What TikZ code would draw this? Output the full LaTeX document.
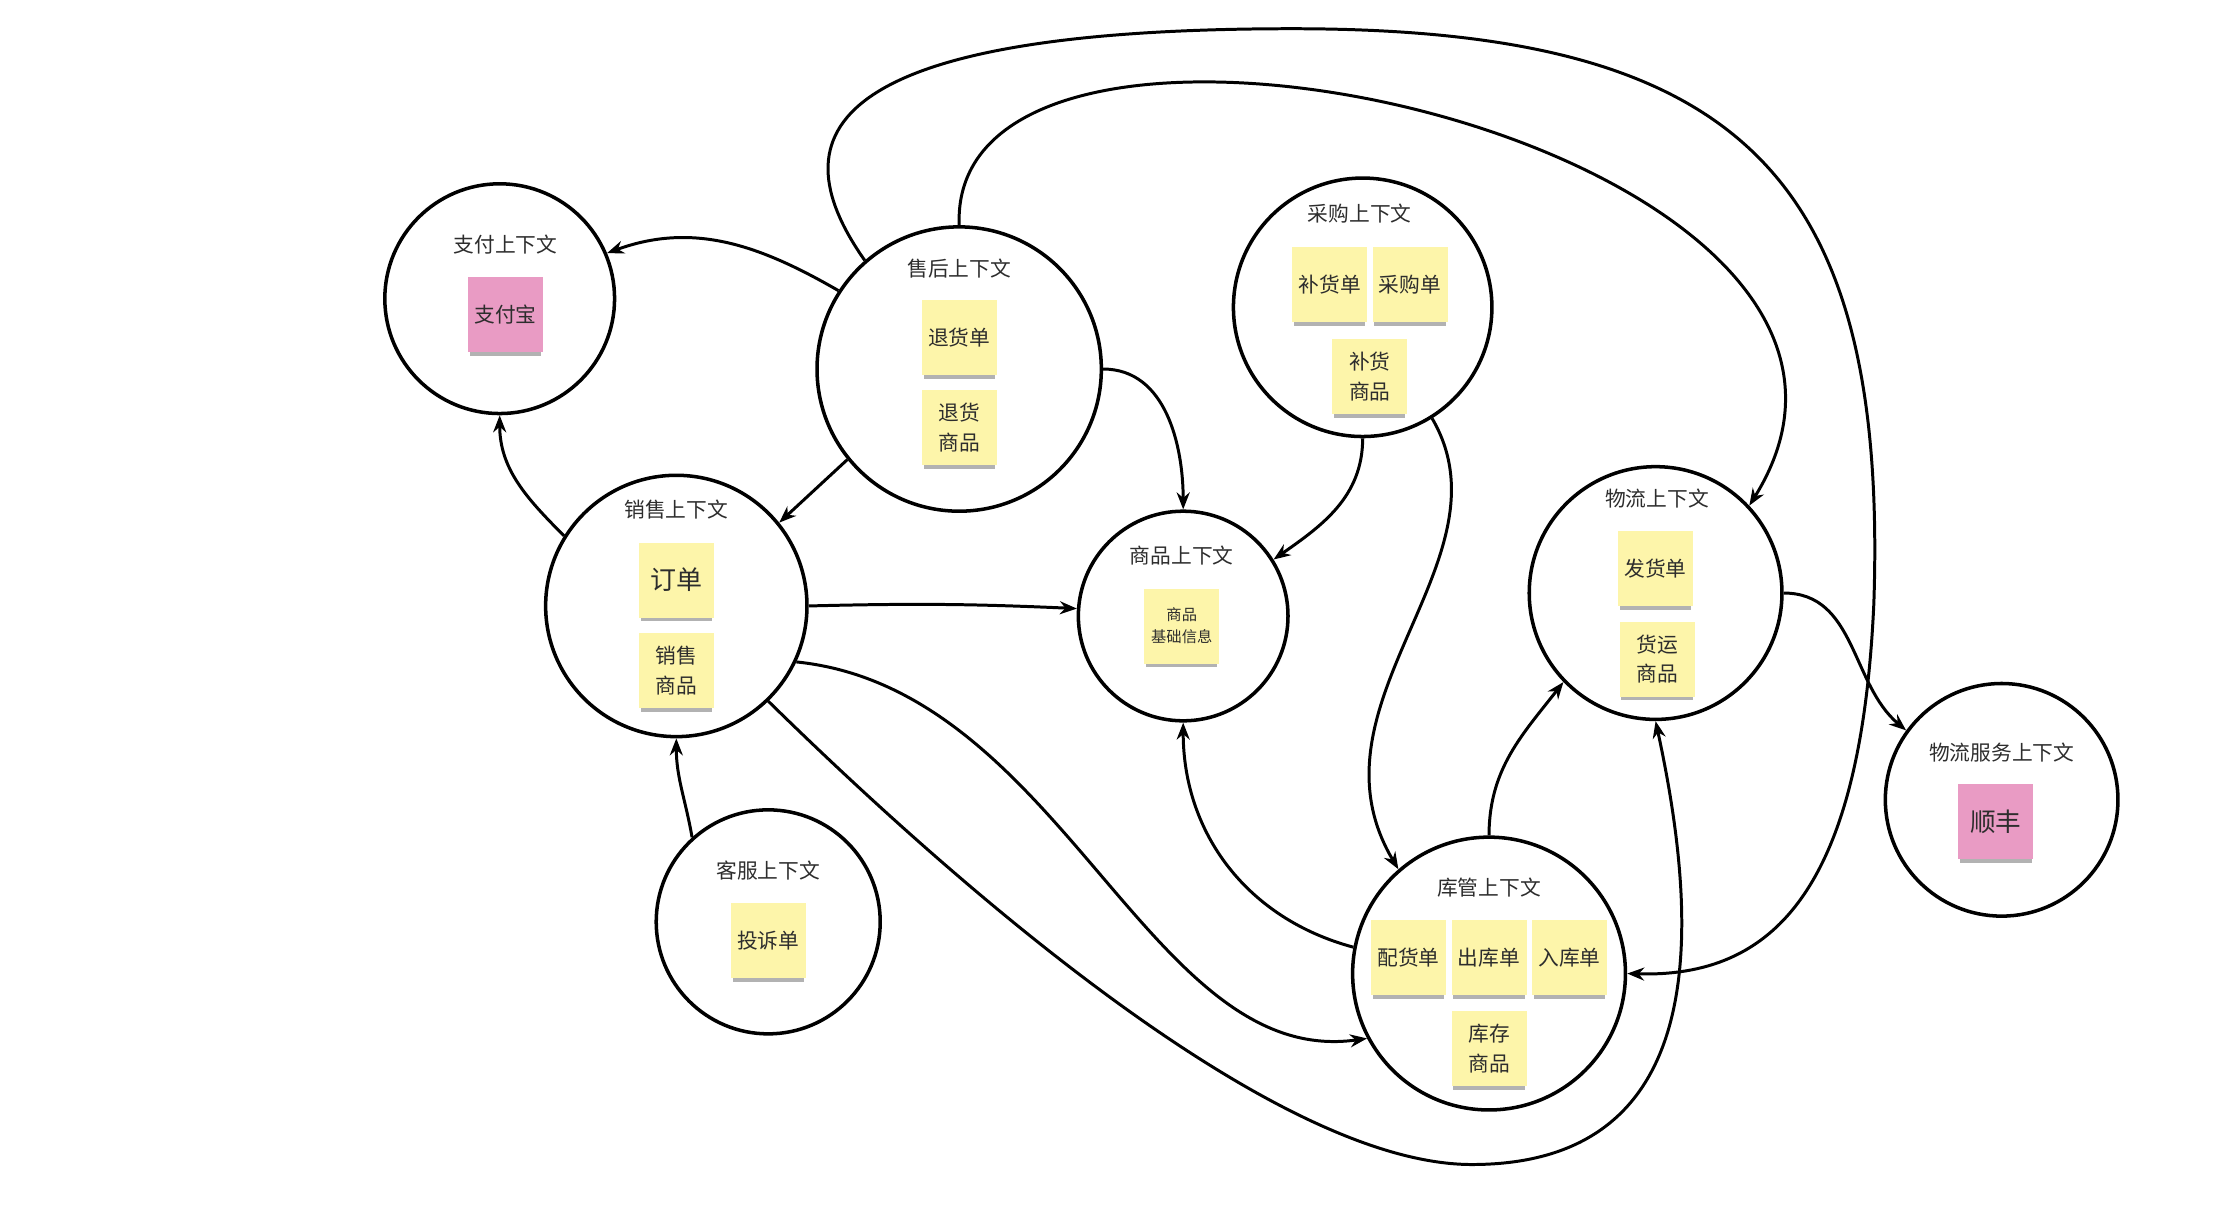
\documentclass[tikz,border=0pt]{standalone}
\usepackage{fontspec}
\setmainfont{Noto Sans CJK SC}
\usepackage{tikz}
\usetikzlibrary{arrows.meta}
\usetikzlibrary{shadows}
\definecolor{stickyyellow}{RGB}{253,245,170}
\definecolor{stickypink}{RGB}{233,155,196}
\definecolor{inkgray}{RGB}{45,45,45}

\begin{document}
\begin{tikzpicture}[x=0.14359mm, y=-0.14359mm,
  ctx/.style={circle, draw, line width=1pt, inner sep=0pt, minimum size=#1*0.28718mm},
  ctxtitle/.style={inner sep=0pt, text=inkgray, font=\fontsize{5.9}{7}\selectfont},
  sticky/.style={fill=stickyyellow, minimum width=7.5mm, minimum height=7.5mm,
    inner sep=0pt, align=center, text=inkgray, font=\fontsize{5.9}{8.5}\selectfont,
    drop shadow={shadow xshift=0pt, shadow yshift=-0.6mm, shadow scale=0.95,
      opacity=0.3, fill=black}},
  pinksticky/.style={sticky, fill=stickypink},
  flow/.style={line width=0.85pt, -{Stealth[length=1.7mm, width=1.3mm]}}
]
  \useasboundingbox (0,0) rectangle (1560,844);

  % Contexts
  \node[ctx=80] (pay) at (348,208) {};
  \node[ctx=99] (after) at (668,257) {};
  \node[ctx=90] (pur) at (949,214) {};
  \node[ctx=91] (sales) at (471,422) {};
  \node[ctx=73] (prod) at (824,429) {};
  \node[ctx=88] (logi) at (1153,413) {};
  \node[ctx=81] (lserv) at (1394,557) {};
  \node[ctx=78] (svc) at (535,642) {};
  \node[ctx=95] (wh) at (1037,678) {};

  % Context titles
  \node[ctxtitle] (payT) at (352,170) {支付上下文};
  \node[ctxtitle] (afterT) at (668,187) {售后上下文};
  \node[ctxtitle] (purT) at (947,149) {采购上下文};
  \node[ctxtitle] (salesT) at (471,355) {销售上下文};
  \node[ctxtitle] (prodT) at (823,387) {商品上下文};
  \node[ctxtitle] (logiT) at (1154,347) {物流上下文};
  \node[ctxtitle] (lservT) at (1394,524) {物流服务上下文};
  \node[ctxtitle] (svcT) at (535,606) {客服上下文};
  \node[ctxtitle] (whT) at (1037,618) {库管上下文};

  % Sticky notes
  \node[pinksticky] (alipay) at (352,219) {支付宝};
  \node[sticky] (retNote) at (668,235) {退货单};
  \node[sticky] (retItem) at (668,298) {退货\\商品};
  \node[sticky] (restockNote) at (926,198) {补货单};
  \node[sticky] (purNote) at (982,198) {采购单};
  \node[sticky] (restockItem) at (954,262) {补货\\商品};
  \node[sticky, font=\fontsize{7.4}{9}\selectfont] (order) at (471,404) {订单};
  \node[sticky] (saleItem) at (471,467) {销售\\商品};
  \node[sticky, font=\fontsize{4.35}{6.2}\selectfont] (prodInfo) at (823,436) {商品\\基础信息};
  \node[sticky] (shipNote) at (1153,396) {发货单};
  \node[sticky] (freightItem) at (1154,459) {货运\\商品};
  \node[pinksticky, font=\fontsize{7.3}{9}\selectfont] (sf) at (1390,572) {顺丰};
  \node[sticky] (complaint) at (535,655) {投诉单};
  \node[sticky] (pickNote) at (981,667) {配货单};
  \node[sticky] (outNote) at (1037,667) {出库单};
  \node[sticky] (inNote) at (1093,667) {入库单};
  \node[sticky] (stockItem) at (1037,730) {库存\\商品};

  % Flows between contexts
  \draw[flow] (after.147) to[out=150, in=20] (pay.23);
  \draw[flow] (sales.148) to[out=135, in=-90] (pay.south);
  \draw[flow] (after.219) -- (sales.39);
  \draw[flow] (after.east) to[out=0, in=90] (prod.north);
  \draw[flow] (after.north) .. controls (660,-55) and (1375,100) .. (logi.43);
  \draw[flow] (after.131) .. controls (545,100) and (560,20) .. (900,20)
    .. controls (1210,20) and (1315,120) .. (1305,420)
    .. controls (1296,620) and (1235,681) .. (wh.east);
  \draw[flow] (sales.east) to[bend left=2] (prod.176);
  \draw[flow] (pur.south) to[out=-90, in=35] (prod.32);
  \draw[flow] (pur.302) .. controls (1055,390) and (905,490) .. (wh.131);
  \draw[flow] (wh.169) to[out=165, in=-90] (prod.south);
  \draw[flow] (sales.335) .. controls (740,480) and (800,745) .. (wh.208);
  \draw[flow] (wh.north) to[out=90, in=232] (logi.224);
  \draw[flow] (sales.314) .. controls (700,650) and (900,811) .. (1025,811)
    .. controls (1190,811) and (1185,650) .. (logi.south);
  \draw[flow] (svc.132) to[out=100, in=-90] (sales.south);
  \draw[flow] (logi.east) to[out=0, in=140] (lserv.144);
\end{tikzpicture}
\end{document}
